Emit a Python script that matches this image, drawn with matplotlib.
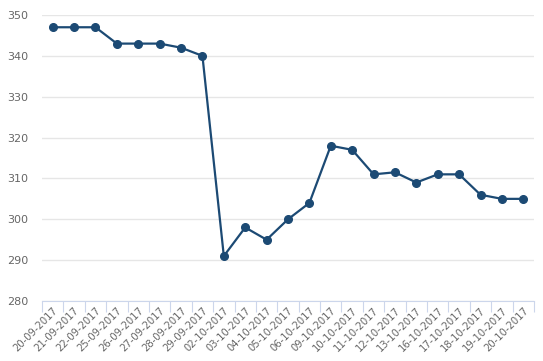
import matplotlib
matplotlib.use('Agg')
import matplotlib.pyplot as plt

dates = ['20-09-2017', '21-09-2017', '22-09-2017', '25-09-2017', '26-09-2017',
         '27-09-2017', '28-09-2017', '29-09-2017', '02-10-2017', '03-10-2017',
         '04-10-2017', '05-10-2017', '06-10-2017', '09-10-2017', '10-10-2017',
         '11-10-2017', '12-10-2017', '13-10-2017', '16-10-2017', '17-10-2017',
         '18-10-2017', '19-10-2017', '20-10-2017']
prices = [347, 347, 347, 343, 343, 343, 342, 340, 291, 298, 295, 300, 304,
          318, 317, 311, 311.5, 309, 311, 311, 306, 305, 305]
yticks = [280, 290, 300, 310, 320, 330, 340, 350]

line_color = '#1c4a74'
label_color = '#666666'

fig = plt.figure(figsize=(5.43, 3.61), dpi=100)
ax = fig.add_axes([42 / 543, 1 - 301 / 361, 492 / 543, 286 / 361])

x = list(range(len(dates)))
ax.plot(x, prices, color=line_color, linewidth=1.6, marker='o', markersize=5.5,
        zorder=3)

ax.set_xlim(-0.5, len(dates) - 0.5)
ax.set_ylim(280, 350)
ax.set_yticks(yticks)
ax.grid(axis='y', color='#e6e6e6', linewidth=1)
ax.set_axisbelow(True)

# ticks sit between categories, labels at the category centres
ax.set_xticks([i - 0.5 for i in range(len(dates) + 1)], minor=False)
ax.set_xticklabels([''] * (len(dates) + 1))
ax.tick_params(axis='x', which='major', length=8, color='#ccd6eb')
ax.set_xticks(x, minor=True)
ax.set_xticklabels(dates, minor=True, rotation=45, ha='right',
                   rotation_mode='anchor', fontsize=7.2, color=label_color)
ax.tick_params(axis='x', which='minor', length=0, pad=3)

ax.tick_params(axis='y', length=0, labelsize=8, labelcolor=label_color, pad=10)

for s in ['top', 'right', 'left']:
    ax.spines[s].set_visible(False)
ax.spines['bottom'].set_color('#ccd6eb')

fig.savefig('out.png', dpi=100)
